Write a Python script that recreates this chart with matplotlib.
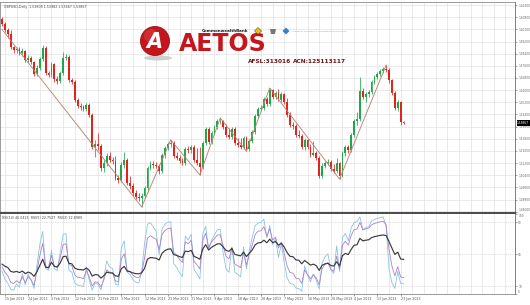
import numpy as np
import matplotlib
matplotlib.use("Agg")
import matplotlib.pyplot as plt
from matplotlib.patches import Circle, Ellipse, Polygon
from matplotlib.transforms import blended_transform_factory

# ---------------- data ----------------
symbol_text = "GBPUSD,Daily  1.53809 1.53982 1.53667 1.53867"
rsi_text = "RSI(14) 46.0425  RSI(5) 22.7527  RSI(3) 12.8989"
rsi_periods = [14, 5, 3]
last_price_label = "1.53867"

# closes before the first visible bar (only used to warm up the RSI)
prior_closes = [1.6250, 1.6240, 1.6270, 1.6250, 1.6150, 1.6180, 1.6140, 1.6160,
                1.6130, 1.6180, 1.6170, 1.6250, 1.6260, 1.6120, 1.6080, 1.6090,
                1.6060, 1.6010, 1.6100, 1.6085, 1.6068]

closes = [1.6035, 1.5996, 1.5969, 1.5884, 1.5864, 1.5871, 1.5844, 1.5857, 1.5798, 1.5811,
          1.5785, 1.5706, 1.5746, 1.5805, 1.5877, 1.5713, 1.5700, 1.5772, 1.5673, 1.5660,
          1.5713, 1.5811, 1.5818, 1.5667, 1.5653, 1.5535, 1.5496, 1.5489, 1.5476, 1.5502,
          1.5436, 1.5226, 1.5246, 1.5232, 1.5088, 1.5120, 1.5167, 1.5140, 1.5134, 1.5022,
          1.5009, 1.5107, 1.5140, 1.4989, 1.4969, 1.4923, 1.4897, 1.4890, 1.4903, 1.4956,
          1.5088, 1.5114, 1.5107, 1.5101, 1.5068, 1.5173, 1.5219, 1.5246, 1.5252, 1.5167,
          1.5153, 1.5134, 1.5120, 1.5213, 1.5206, 1.5226, 1.5140, 1.5120, 1.5094, 1.5252,
          1.5344, 1.5259, 1.5318, 1.5357, 1.5397, 1.5400, 1.5357, 1.5305, 1.5292, 1.5344,
          1.5252, 1.5239, 1.5226, 1.5285, 1.5213, 1.5265, 1.5324, 1.5430, 1.5476, 1.5482,
          1.5542, 1.5509, 1.5601, 1.5555, 1.5581, 1.5535, 1.5575, 1.5522, 1.5436, 1.5371,
          1.5364, 1.5305, 1.5298, 1.5226, 1.5272, 1.5226, 1.5173, 1.5186, 1.5153, 1.5035,
          1.5101, 1.5120, 1.5127, 1.5081, 1.5068, 1.5120, 1.5035, 1.5186, 1.5226, 1.5206,
          1.5305, 1.5397, 1.5410, 1.5594, 1.5555, 1.5575, 1.5588, 1.5653, 1.5686, 1.5706,
          1.5726, 1.5739, 1.5732, 1.5667, 1.5581, 1.5482, 1.5522, 1.5390, 1.5384]

highs = [1.6081, 1.6048, 1.6009, 1.5996, 1.5890, 1.5884, 1.5884, 1.5877, 1.5864, 1.5831,
         1.5825, 1.5792, 1.5765, 1.5818, 1.5897, 1.5890, 1.5726, 1.5785, 1.5778, 1.5693,
         1.5726, 1.5851, 1.5838, 1.5831, 1.5680, 1.5667, 1.5548, 1.5515, 1.5502, 1.5515,
         1.5515, 1.5450, 1.5272, 1.5318, 1.5246, 1.5140, 1.5186, 1.5193, 1.5160, 1.5167,
         1.5042, 1.5127, 1.5193, 1.5153, 1.5035, 1.4989, 1.4943, 1.4923, 1.4923, 1.4969,
         1.5101, 1.5134, 1.5134, 1.5127, 1.5114, 1.5186, 1.5232, 1.5259, 1.5272, 1.5265,
         1.5193, 1.5173, 1.5153, 1.5226, 1.5232, 1.5239, 1.5239, 1.5219, 1.5226, 1.5265,
         1.5357, 1.5357, 1.5331, 1.5371, 1.5410, 1.5417, 1.5403, 1.5377, 1.5351, 1.5357,
         1.5357, 1.5285, 1.5285, 1.5298, 1.5298, 1.5278, 1.5338, 1.5443, 1.5489, 1.5502,
         1.5555, 1.5555, 1.5614, 1.5607, 1.5594, 1.5607, 1.5588, 1.5581, 1.5548, 1.5456,
         1.5390, 1.5377, 1.5338, 1.5311, 1.5285, 1.5278, 1.5246, 1.5265, 1.5199, 1.5167,
         1.5120, 1.5134, 1.5147, 1.5140, 1.5114, 1.5153, 1.5127, 1.5199, 1.5239, 1.5239,
         1.5318, 1.5410, 1.5456, 1.5686, 1.5614, 1.5588, 1.5601, 1.5667, 1.5700, 1.5719,
         1.5739, 1.5752, 1.5765, 1.5746, 1.5673, 1.5594, 1.5535, 1.5529, 1.5397]

lows = [1.6022, 1.5982, 1.5943, 1.5871, 1.5844, 1.5844, 1.5831, 1.5825, 1.5785, 1.5778,
        1.5772, 1.5693, 1.5693, 1.5732, 1.5792, 1.5700, 1.5686, 1.5686, 1.5653, 1.5640,
        1.5647, 1.5700, 1.5798, 1.5653, 1.5640, 1.5522, 1.5482, 1.5469, 1.5463, 1.5463,
        1.5423, 1.5213, 1.5160, 1.5206, 1.5068, 1.5061, 1.5101, 1.5127, 1.5114, 1.5009,
        1.4989, 1.4995, 1.5088, 1.4976, 1.4949, 1.4903, 1.4884, 1.4870, 1.4831, 1.4890,
        1.4930, 1.5074, 1.5088, 1.5088, 1.5048, 1.5055, 1.5153, 1.5206, 1.5226, 1.5153,
        1.5140, 1.5120, 1.5107, 1.5107, 1.5186, 1.5186, 1.5127, 1.5107, 1.5042, 1.5081,
        1.5239, 1.5246, 1.5246, 1.5305, 1.5344, 1.5377, 1.5344, 1.5292, 1.5278, 1.5278,
        1.5239, 1.5226, 1.5213, 1.5213, 1.5199, 1.5199, 1.5252, 1.5311, 1.5417, 1.5463,
        1.5469, 1.5496, 1.5496, 1.5542, 1.5542, 1.5529, 1.5522, 1.5509, 1.5423, 1.5357,
        1.5344, 1.5292, 1.5285, 1.5213, 1.5206, 1.5213, 1.5160, 1.5167, 1.5140, 1.5022,
        1.5022, 1.5088, 1.5107, 1.5068, 1.5055, 1.5055, 1.5015, 1.5028, 1.5167, 1.5186,
        1.5193, 1.5292, 1.5371, 1.5397, 1.5542, 1.5522, 1.5555, 1.5575, 1.5640, 1.5673,
        1.5693, 1.5713, 1.5719, 1.5647, 1.5568, 1.5469, 1.5463, 1.5371, 1.5377]

zigzag_bars = [0, 48, 58, 68, 75, 84, 92, 116, 132]
zigzag_prices = [1.6000, 1.4831, 1.5272, 1.5042, 1.5417, 1.5199, 1.5614, 1.5015, 1.5765]

date_labels = ["15 Jan 2013", "24 Jan 2013", "3 Feb 2013", "12 Feb 2013", "21 Feb 2013",
               "3 Mar 2013", "12 Mar 2013", "21 Mar 2013", "31 Mar 2013", "9 Apr 2013",
               "18 Apr 2013", "28 Apr 2013", "7 May 2013", "16 May 2013", "26 May 2013",
               "4 Jun 2013", "13 Jun 2013", "23 Jun 2013"]

price_ticks = [1.6160, 1.6080, 1.6000, 1.5920, 1.5840, 1.5760, 1.5680, 1.5600, 1.5520,
               1.5440, 1.5360, 1.5280, 1.5200, 1.5120, 1.5040, 1.4960, 1.4880, 1.4800]
rsi_ticks = [100, 90, 50, 10, 0]

# ---------------- helpers ----------------
def wilder_rsi(series, n):
    s = np.asarray(series, dtype=float)
    d = np.diff(s)
    g = np.clip(d, 0, None)
    l = np.clip(-d, 0, None)
    out = np.full(len(s), np.nan)
    ag = g[:n].mean()
    al = l[:n].mean()
    out[n] = 100 - 100 / (1 + ag / al) if al > 0 else 100
    for i in range(n, len(d)):
        ag = (ag * (n - 1) + g[i]) / n
        al = (al * (n - 1) + l[i]) / n
        out[i + 1] = 100 - 100 / (1 + ag / al) if al > 0 else 100
    return out

W, H = 530, 305
BAR_PX, X0_PX = 2.91, 2.0
PRICE_PER_PX = 0.000658
TOP_PRICE = 1.6180


def frame(x0, y0, x1, y1):
    return [x0 / W, 1 - y1 / H, (x1 - x0) / W, (y1 - y0) / H]

closes_a = np.array(closes)
highs_a = np.array(highs)
lows_a = np.array(lows)
opens_a = np.concatenate([[prior_closes[-1]], closes_a[:-1]])
xb = np.arange(len(closes_a))

fig = plt.figure(figsize=(W / 100, H / 100), dpi=100, facecolor="white")
ax = fig.add_axes(frame(0, 2, 515, 213))
axr = fig.add_axes(frame(0, 214, 515, 294), sharex=ax)

xlim = (-X0_PX / BAR_PX, (515 - X0_PX) / BAR_PX)
ax.set_xlim(*xlim)
ax.set_ylim(TOP_PRICE - 211 * PRICE_PER_PX, TOP_PRICE)
axr.set_ylim(0, 100)

grid_c = "#dedede"
label_bars = [1 + 8 * k for k in range(len(date_labels))]
grid_bars = np.arange(1, 177, 4)
for a in (ax, axr):
    a.set_facecolor("white")
    a.set_axisbelow(True)
    a.set_xticks(grid_bars, minor=True)
    for b in grid_bars:
        a.axvline(b, color=grid_c, lw=0.45, zorder=0)
    for sp in a.spines.values():
        sp.set_color("#8a8a8a")
        sp.set_linewidth(0.6)
    a.yaxis.tick_right()

for t in price_ticks:
    ax.axhline(t, color=grid_c, lw=0.45, zorder=0)
for t in rsi_ticks[1:-1]:
    axr.axhline(t, color="#cfcfcf", lw=0.45, ls=(0, (2, 1.5)), zorder=0)

ax.spines["bottom"].set_color("#4d4d4d")
ax.spines["bottom"].set_linewidth(1.6)
axr.spines["top"].set_visible(False)
ax.spines["right"].set_color("#6a6a6a")
axr.spines["right"].set_color("#6a6a6a")

# candles
bull = closes_a >= opens_a
cols = np.where(bull, "#1fa84a", "#e3221b")
ax.vlines(xb, lows_a, highs_a, colors=cols, lw=0.55, zorder=3)
body = np.maximum(np.abs(closes_a - opens_a), 0.00012)
ax.bar(xb, body, bottom=np.minimum(opens_a, closes_a), width=0.62,
       color=cols, linewidth=0, zorder=4)

# zigzag
ax.plot(zigzag_bars, zigzag_prices, color="#b68478", lw=0.65, zorder=5)

# price axis labels
ax.set_yticks(price_ticks)
ax.set_yticklabels([f"{v:.5f}" for v in price_ticks])
ax.tick_params(axis="y", labelsize=2.1, colors="#666666", length=1.5, width=0.4, pad=0.8)
ax.tick_params(axis="x", which="both", length=0, labelbottom=False)
ax.get_yticklabels()[-1].set_va("bottom")

bt = blended_transform_factory(ax.transAxes, ax.transData)
ax.text(1.004, closes_a[-1], last_price_label, transform=bt, ha="left", va="center",
        fontsize=2.1, color="white", zorder=10, clip_on=False,
        bbox=dict(fc="black", ec="none", pad=0.4))

ax.text(0.008, 0.985, symbol_text, transform=ax.transAxes, ha="left", va="top",
        fontsize=2.3, color="#444444")

# RSI panel
all_closes = np.concatenate([prior_closes, closes_a])
rsi_cols = ["#3b3b3b", "#a883cc", "#8cc4e0"]
rsi_lw = [0.85, 0.6, 0.6]
npre = len(prior_closes)
for per, c, lw, z in zip(rsi_periods[::-1], rsi_cols[::-1], rsi_lw[::-1], [3, 4, 5]):
    r = wilder_rsi(all_closes, per)[npre:]
    axr.plot(xb, r, color=c, lw=lw, zorder=z)

axr.set_yticks(rsi_ticks)
axr.set_yticklabels([str(v) for v in rsi_ticks])
axr.tick_params(axis="y", labelsize=2.1, colors="#666666", length=1.5, width=0.4, pad=0.8)
axr.get_yticklabels()[0].set_va("top")
axr.get_yticklabels()[-1].set_va("bottom")
axr.set_xticks(label_bars)
axr.set_xticklabels(date_labels)
axr.tick_params(axis="x", which="major", labelsize=2.3, colors="#555555", length=1.5,
                width=0.4, pad=0.8)
axr.tick_params(axis="x", which="minor", length=0)
for lbl in axr.get_xticklabels():
    lbl.set_ha("left")
axr.text(0.004, 0.975, rsi_text, transform=axr.transAxes, ha="left", va="top",
         fontsize=2.3, color="#444444")

# ---------------- logo overlay ----------------
ov = fig.add_axes([0, 0, 1, 1], facecolor="none")
ov.set_xlim(0, W)
ov.set_ylim(H, 0)
ov.axis("off")
ov.add_patch(Ellipse((158, 58), 28, 5, fc="#cfcfcf", ec="none", zorder=1))
ov.add_patch(Circle((155, 41), 14.5, fc="#c5151d", ec="#9e0f15", lw=0.6, zorder=2))
ov.add_patch(Circle((151, 36), 7, fc="#e04a4f", ec="none", alpha=0.45, zorder=2))
ov.text(154.5, 42, "A", fontsize=15, fontweight="bold", fontstyle="italic",
        color="white", ha="center", va="center", zorder=3)
ov.text(179, 51, "AETOS", fontsize=17, fontweight="bold", color="#c4161c",
        ha="left", va="baseline", zorder=3)
ov.text(202, 30.5, "CommonwealthBank", fontsize=2.9, fontweight="bold", color="#1a1a1a",
        ha="left", va="center", zorder=3)
ov.add_patch(Polygon([[258, 27.5], [261.5, 31], [258, 34.5], [254.5, 31]],
                     closed=True, fc="#f5c400", ec="#222222", lw=0.3, zorder=3))
ov.add_patch(Polygon([[270, 29], [276, 29], [275, 34], [271, 34]],
                     closed=True, fc="#777777", ec="none", zorder=3))
ov.add_patch(Polygon([[286, 27.5], [289.5, 31], [286, 34.5], [282.5, 31]],
                     closed=True, fc="#3d7fc4", ec="none", zorder=3))
ov.text(292, 31.5, "Australian Securities & Investments Commission", fontsize=1.6,
        color="#999999", ha="left", va="center", zorder=3)
ov.text(248, 61.5, "AFSL:313016", fontsize=4.2, fontweight="bold", color="#6e1414",
        ha="left", va="center", zorder=3)
ov.text(293, 61.5, "ACN:125113117", fontsize=4.2, fontweight="bold", color="#6e1414",
        ha="left", va="center", zorder=3)

fig.savefig("out.png", dpi=100, facecolor="white")
